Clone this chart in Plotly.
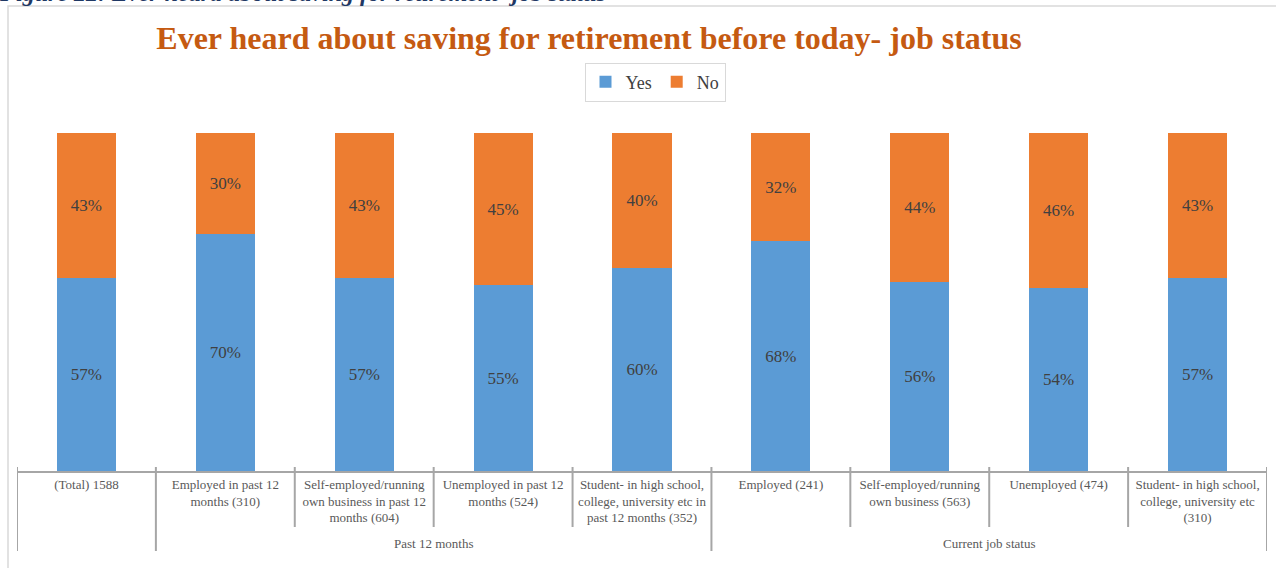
import plotly.graph_objects as go

# Survey results: share who had heard about saving for retirement, by job status
categories = [
    "(Total) 1588",
    "Employed in past 12<br>months (310)",
    "Self-employed/running<br>own business in past 12<br>months (604)",
    "Unemployed in past 12<br>months (524)",
    "Student- in high school,<br>college, university etc in<br>past 12 months (352)",
    "Employed (241)",
    "Self-employed/running<br>own business (563)",
    "Unemployed (474)",
    "Student- in high school,<br>college, university etc<br>(310)",
]
yes_pct = [57, 70, 57, 55, 60, 68, 56, 54, 57]
no_pct = [43, 30, 43, 45, 40, 32, 44, 46, 43]
groups = ["Past 12 months", "Current job status"]
group_centers = [2.5, 6.5]

SERIF = "Liberation Serif"
BLUE = "#5b9bd5"
ORANGE = "#ed7d31"
GRID = "#a6a6a6"

W, H = 1276, 568
L, R, T, B = 17, 9, 133, 97
plot_h = H - T - B


def py(pixel_y):
    """Convert a pixel row to paper y."""
    return (H - B - pixel_y) / plot_h


def px(pixel_x):
    return (pixel_x - L) / (W - L - R)


xs = list(range(len(categories)))

fig = go.Figure()
fig.add_trace(go.Bar(
    x=xs, y=yes_pct, name="Yes", marker=dict(color=BLUE, line=dict(width=0)),
    text=[f"{v}%" for v in yes_pct], textposition="inside",
    insidetextanchor="middle", textangle=0,
    insidetextfont=dict(family=SERIF, size=17, color="#404040"),
    hoverinfo="skip",
))
fig.add_trace(go.Bar(
    x=xs, y=no_pct, name="No", marker=dict(color=ORANGE, line=dict(width=0)),
    text=[f"{v}%" for v in no_pct], textposition="inside",
    insidetextanchor="middle", textangle=0,
    insidetextfont=dict(family=SERIF, size=17, color="#404040"),
    hoverinfo="skip",
))

shapes = []
# outer chart frame
shapes.append(dict(type="rect", xref="paper", yref="paper",
                   x0=px(8), x1=px(1290), y0=py(590), y1=py(6),
                   line=dict(color="#d9d9d9", width=1.5), layer="below"))
# category separators along the axis
full = {-0.5, 0.5, 4.5, 8.5}
for i in range(len(categories) + 1):
    b = i - 0.5
    bottom = 551 if b in full else 527
    shapes.append(dict(type="line", xref="x", yref="paper",
                       x0=b, x1=b, y0=py(467), y1=py(bottom),
                       line=dict(color=GRID, width=2)))

annotations = []
for g, c in zip(groups, group_centers):
    annotations.append(dict(text=g, x=c, xref="x", y=py(543), yref="paper",
                            showarrow=False, xanchor="center", yanchor="middle",
                            font=dict(family=SERIF, size=13, color="#595959")))
# figure caption line at the top edge
annotations.append(dict(
    text="<b><i>Figure 22: Ever heard about saving for retirement- job status</i></b>",
    x=px(-3), xref="paper", y=py(8.5), yref="paper", showarrow=False,
    xanchor="left", yanchor="bottom",
    font=dict(family=SERIF, size=24, color="#1f3864")))

fig.update_layout(
    width=W, height=H,
    margin=dict(l=L, r=R, t=T, b=B),
    barmode="stack", bargap=0.575,
    plot_bgcolor="white", paper_bgcolor="white",
    font=dict(family=SERIF),
    title=dict(text="<b>Ever heard about saving for retirement before today- job status</b>",
               x=px(594), xanchor="center", y=1 - 38 / H, yanchor="middle",
               font=dict(family=SERIF, size=32, color="#c55a11")),
    legend=dict(orientation="h", x=px(655), xanchor="center",
                y=py(82), yanchor="middle",
                bordercolor="#d9d9d9", borderwidth=1,
                font=dict(family=SERIF, size=18, color="#404040"),
                itemwidth=30, traceorder="normal"),
    xaxis=dict(tickvals=xs, ticktext=categories, range=[-0.5, 8.5],
               showline=True, linecolor=GRID, linewidth=2, ticks="",
               showgrid=False, zeroline=False,
               tickfont=dict(family=SERIF, size=13, color="#595959")),
    yaxis=dict(range=[0, 100], visible=False, showgrid=False),
    shapes=shapes, annotations=annotations,
    uniformtext=dict(mode=False),
)

fig.write_html("out.html")
